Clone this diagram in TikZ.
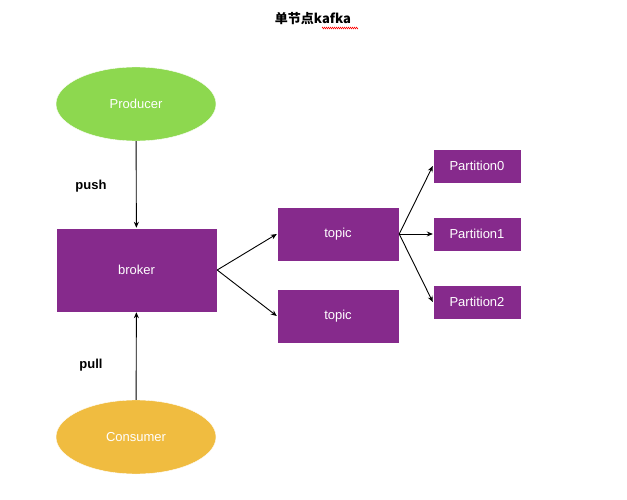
\documentclass[tikz,border=0pt]{standalone}
\usepackage{fontspec}
\setmainfont{Liberation Sans}
\newfontfamily\cjk{Noto Sans CJK SC}
\usetikzlibrary{shapes.geometric,arrows.meta,decorations.pathmorphing}
\definecolor{purp}{HTML}{862A8C}
\definecolor{grn}{HTML}{8DD84F}
\definecolor{org}{HTML}{F0BC40}
\begin{document}
\begin{tikzpicture}[x=1pt,y=-1pt,
  box/.style={draw=white,fill=purp,text=white,inner sep=0pt,font=\fontsize{13}{15}\selectfont},
  ell/.style={ellipse,draw=white,text=white,minimum width=160pt,minimum height=74pt,font=\fontsize{13}{15}\selectfont},
  arr/.style={-{Stealth[length=6pt,width=5pt]},line width=0.9pt,black},
  lbl/.style={font=\bfseries\fontsize{13}{15}\selectfont}]
\useasboundingbox[fill=white] (0,0) rectangle (627,500);
\node[font=\cjk\bfseries\fontsize{13}{15}\selectfont] (title) at (313,19) {单节点kafka};
\draw[red,line width=0.5pt,decoration={zigzag,amplitude=0.8pt,segment length=2pt},decorate] (322,28) -- (358,28);
\node[ell,fill=grn] (prod) at (136,104) {Producer};
\node[ell,fill=org] (cons) at (136,437) {Consumer};
\node[box,minimum width=161pt,minimum height=84pt] (broker) at (136.5,270) {broker};
\node[box,minimum width=122pt,minimum height=54pt] (t1) at (338,234) {topic};
\node[box,minimum width=122pt,minimum height=54pt] (t2) at (338,316) {topic};
\node[box,minimum width=88pt,minimum height=34pt] (p0) at (477,166) {Partition0};
\node[box,minimum width=88pt,minimum height=34pt] (p1) at (477,234) {Partition1};
\node[box,minimum width=88pt,minimum height=34pt] (p2) at (477,302) {Partition2};
\node[lbl] (push) at (91,186) {push};
\node[lbl] (pull) at (91,365) {pull};
\draw[arr] (prod) -- (broker);
\draw[arr] (cons) -- (broker);
\draw[arr] (broker.east) -- (t1.west);
\draw[arr] (broker.east) -- (t2.west);
\draw[arr] (t1.east) -- (p0.west);
\draw[arr] (t1.east) -- (p1.west);
\draw[arr] (t1.east) -- (p2.west);
\end{tikzpicture}
\end{document}
